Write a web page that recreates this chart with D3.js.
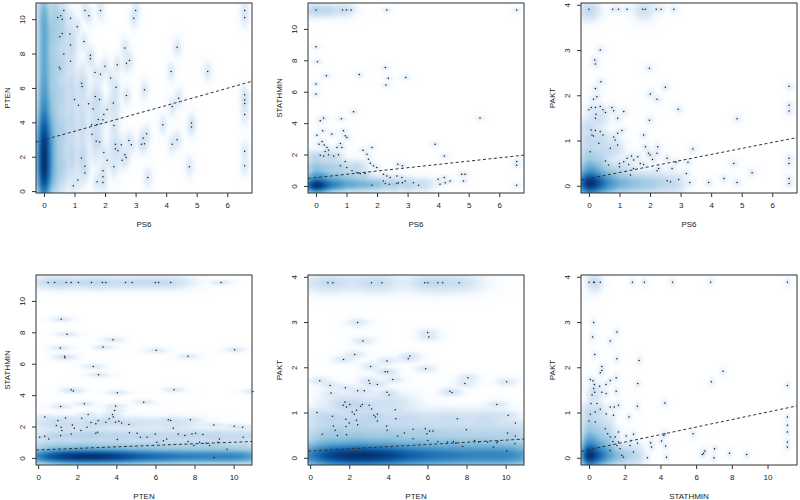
<!DOCTYPE html>
<html>
<head>
<meta charset="utf-8">
<script src="https://cdn.jsdelivr.net/npm/d3@7"></script>
<style>
  body { margin: 0; background: #fff; }
  svg { display: block; }
  text { font-family: "Liberation Sans", Arial, sans-serif; fill: #222; }
</style>
</head>
<body>
<div id="chart"></div>
<script>
// axis ranges (R style, 4% padding) and ticks per variable
var limits = { PS6: [-0.26, 6.81], PTEN: [-0.11, 10.94], STATHMIN: [-0.45, 11.65], PAKT: [-0.16, 4.04] };
var tickValues = { PS6: [0, 1, 2, 3, 4, 5, 6], PTEN: [0, 2, 4, 6, 8, 10], STATHMIN: [0, 2, 4, 6, 8, 10], PAKT: [0, 1, 2, 3, 4] };
var bandwidth = { PS6: 0.07, PTEN: 0.28, STATHMIN: 0.085, PAKT: 0.045 };

var pairs = [["PS6", "PTEN"], ["PS6", "STATHMIN"], ["PS6", "PAKT"], ["PTEN", "STATHMIN"], ["PTEN", "PAKT"], ["STATHMIN", "PAKT"]];
// dashed lm lines: [intercept, slope]
var fitLines = [[2.98, 0.5], [0.53, 0.21], [0.16, 0.133], [0.51, 0.049], [0.15, 0.024], [0.18, 0.083]];

// outlying points drawn on top of each panel
var ps6Pten = [[0.65,10.5],[1.85,10.5],[3.0,10.5],[2.94,10.05],[6.57,10.5],[6.57,10.1],[0.45,10.1],[0.55,10.2],[0.6,10.0],[0.87,10.05],[1.34,10.5],[1.47,10.2],[1.09,9.56],[0.6,9.17],[0.52,8.98],[0.85,9.13],[1.31,8.7],[0.87,8.5],[0.65,7.97],[0.87,7.55],[0.5,7.2],[0.53,7.1],[1.52,7.9],[1.52,7.7],[2.65,8.32],[2.7,7.43],[2.8,7.6],[2.4,7.35],[2.0,7.26],[1.67,6.9],[1.85,6.8],[2.18,6.58],[2.36,6.04],[1.23,6.27],[1.25,6.08],[4.36,8.36],[4.16,6.95],[5.36,6.95],[3.29,5.89],[2.7,5.56],[1.68,5.5],[1.82,5.33],[1.0,5.33],[1.13,5.0],[1.46,5.08],[1.61,4.77],[2.07,4.75],[1.96,4.46],[2.27,5.12],[1.93,4.15],[1.78,4.17],[1.74,3.88],[1.56,3.86],[2.29,3.82],[4.41,5.4],[4.2,4.92],[6.57,5.6],[6.57,5.3],[6.57,5.1],[6.57,4.45],[3.89,3.86],[4.83,3.96],[4.83,3.73],[3.36,3.34],[3.25,3.09],[3.29,2.76],[3.19,2.72],[2.78,2.95],[2.86,2.7],[2.34,2.72],[2.42,2.34],[2.34,2.47],[2.53,2.7],[2.65,2.12],[2.69,1.95],[2.56,1.8],[2.07,1.8],[2.29,1.41],[1.96,2.24],[1.71,2.9],[1.82,2.86],[1.57,3.3],[4.2,2.72],[4.36,2.99],[6.57,2.32],[6.57,1.47],[4.76,1.41],[3.4,0.79],[1.23,1.93],[1.34,1.45],[1.34,1.06],[1.93,1.18],[1.93,0.83],[1.93,0.5],[1.74,0.54],[1.11,0.64],[0.96,0.31]];
var ps6Stathmin = [[0,11.2],[0.87,11.2],[1.0,11.2],[1.15,11.2],[2.32,11.2],[6.57,11.2],[0,8.87],[0.05,7.91],[0.34,7.02],[1.42,7.09],[0,6.49],[0,5.85],[2.27,7.55],[2.37,6.85],[2.29,6.43],[2.94,6.91],[1.23,4.72],[0.25,4.32],[0.14,4.15],[0.83,4.28],[5.37,4.32],[0.03,3.23],[0.22,3.51],[0.52,3.3],[0.9,3.51],[0.96,3.19],[1.01,3.09],[0.1,2.66],[0.2,2.83],[0.27,2.6],[0.36,2.45],[0.69,2.45],[0.8,2.7],[0.85,2.45],[3.9,2.66],[0.14,1.96],[0.25,1.91],[0.41,1.98],[0.58,1.91],[0.74,1.98],[0.41,2.28],[0.3,2.19],[0.96,1.55],[0.8,1.28],[1.01,1.17],[1.54,2.28],[1.67,2.02],[1.83,2.45],[1.72,1.7],[1.78,1.45],[1.88,1.28],[1.99,1.17],[4.2,1.91],[6.57,1.55],[6.57,1.32],[1.18,0.96],[1.34,0.85],[1.45,0.79],[1.61,0.79],[4.77,0.74],[4.88,0.74],[4.83,0.32],[2.21,0.74],[2.32,0.64],[2.43,0.53],[2.21,0.32],[2.27,0.15],[2.4,0.1],[2.65,0.64],[2.81,0.53],[2.7,0.21],[2.65,0.15],[2.83,0.21],[2.92,0.32],[4.0,0.43],[4.06,0.1],[4.2,0.53],[4.23,0.21],[4.39,0.32],[3.36,0.04],[3.19,0.21],[1.83,0.04],[6.57,0.04],[2.68,1.38],[2.83,1.28]];
var ps6Pakt = [[0,3.9],[0.78,3.9],[0.97,3.9],[1.25,3.9],[1.76,3.9],[1.85,3.9],[2.2,3.9],[2.36,3.9],[2.78,3.9],[0.37,3.0],[0.19,2.78],[0.21,2.69],[0.39,2.3],[1.98,2.6],[0.21,2.15],[2.5,2.18],[2.01,2.03],[0.15,1.91],[0.26,1.97],[2.23,1.91],[0,1.68],[0.08,1.73],[0.21,1.73],[0.37,1.75],[0.46,1.68],[0.54,1.62],[0.23,1.58],[0.21,1.49],[0.75,1.73],[0.81,1.66],[1.14,1.64],[0.94,1.49],[2.92,1.69],[1.98,1.45],[4.85,1.48],[6.55,2.2],[6.55,1.78],[6.55,1.65],[0.07,1.23],[0.1,1.12],[0.15,1.1],[0.21,1.22],[0.37,1.2],[0.46,1.12],[0.32,0.94],[0.04,0.75],[0.81,1.08],[0.86,1.01],[0.94,1.16],[1.08,1.22],[0.94,0.9],[0.7,0.83],[1.79,1.12],[1.85,0.86],[1.95,0.72],[2.25,0.86],[2.23,0.72],[3.4,0.81],[0.54,0.55],[0.64,0.46],[1.0,0.49],[1.0,0.42],[1.14,0.53],[1.25,0.61],[1.39,0.66],[1.3,0.47],[1.46,0.57],[1.6,0.64],[1.68,0.49],[1.79,0.47],[1.46,0.38],[1.36,0.24],[2.0,0.68],[2.08,0.58],[2.28,0.38],[2.23,0.33],[2.56,0.61],[2.72,0.38],[2.85,0.52],[3.24,0.52],[3.19,0.27],[2.94,0.14],[2.67,0.09],[2.56,0.11],[3.3,0.07],[3.92,0.07],[4.42,0.16],[4.85,0.07],[4.74,0.49],[5.34,0.29],[6.55,0.61],[6.55,0.49],[6.55,0.16],[6.55,0.05]];
var ptenStathmin = [[0.51,11.17],[0.84,11.17],[1.43,11.17],[1.69,11.17],[2.06,11.17],[2.73,11.17],[3.29,11.17],[3.46,11.17],[4.47,11.17],[4.81,11.17],[5.99,11.17],[6.16,11.17],[6.78,11.17],[9.36,11.17],[1.18,8.83],[1.47,7.87],[3.83,7.53],[1.13,7.0],[3.32,7.06],[1.35,6.47],[1.37,6.38],[6.04,6.85],[7.67,6.47],[10.05,6.89],[2.82,5.83],[3.09,5.3],[1.69,4.34],[1.8,4.26],[4.05,4.15],[6.95,4.34],[10.99,4.23],[1.15,3.28],[2.36,3.45],[3.96,3.3],[5.4,3.55],[0.34,2.6],[1.01,2.38],[1.4,2.55],[0.93,2.06],[1.21,1.74],[1.18,1.96],[1.75,2.1],[1.85,1.89],[2.23,2.53],[2.56,2.77],[2.7,2.26],[2.95,2.17],[3.07,2.38],[3.46,2.28],[3.63,2.49],[3.8,2.77],[3.91,3.02],[3.96,2.28],[3.84,2.6],[4.13,2.34],[4.27,2.23],[4.64,2.13],[2.19,1.74],[2.5,1.96],[3.04,1.64],[2.95,1.57],[0.34,1.38],[0.54,1.21],[0.08,1.32],[1.15,1.43],[1.69,1.53],[4.67,1.6],[5.06,1.57],[5.23,1.32],[4.05,1.17],[5.57,1.32],[5.99,1.53],[6.66,2.43],[6.78,2.38],[6.91,1.89],[7.79,2.43],[7.17,1.53],[7.5,1.43],[7.87,1.53],[8.06,1.57],[8.43,1.49],[6.07,1.0],[6.41,1.1],[6.58,1.21],[7.67,1.04],[7.96,0.79],[8.6,0.94],[8.77,0.79],[9.19,1.0],[9.27,1.21],[8.99,2.1],[10.03,2.02],[10.46,1.96],[10.49,1.32],[9.66,0.55],[8.99,0.02],[8.26,1.0]];
var ptenPakt = [[0.91,3.87],[1.16,3.87],[3.14,3.87],[3.67,3.87],[5.86,3.87],[6.02,3.87],[6.53,3.87],[6.78,3.87],[7.62,3.87],[2.43,2.99],[6.01,2.77],[6.07,2.67],[2.7,2.58],[2.28,2.28],[1.71,2.17],[5.1,2.25],[5.02,2.19],[3.93,2.14],[3.09,2.02],[5.91,1.97],[3.84,1.9],[3.96,1.9],[4.23,1.73],[0.49,1.7],[3.0,1.71],[3.05,1.64],[3.44,1.62],[8.07,1.77],[7.92,1.64],[10.05,1.68],[1.02,1.6],[1.07,1.43],[1.8,1.55],[2.43,1.48],[2.77,1.48],[3.93,1.45],[4.04,1.39],[7.15,1.47],[7.25,1.44],[0.35,1.0],[1.78,1.23],[1.86,1.12],[1.69,1.16],[2.03,1.18],[2.15,1.01],[2.26,0.96],[2.37,1.05],[2.58,1.14],[2.67,1.18],[3.02,1.16],[3.14,1.08],[3.26,0.94],[3.44,0.97],[3.44,0.81],[3.34,0.9],[1.14,0.92],[1.19,0.7],[1.28,0.61],[1.39,0.49],[0.62,0.52],[1.83,0.85],[2.0,0.77],[1.83,0.69],[1.86,0.51],[2.37,0.83],[2.43,0.73],[4.35,1.06],[4.38,0.86],[3.91,0.7],[3.94,0.61],[4.48,0.48],[4.82,0.55],[5.27,0.63],[5.27,0.42],[5.89,0.64],[5.97,0.53],[6.11,0.59],[6.28,0.59],[6.02,0.38],[7.53,0.86],[7.99,0.62],[9.55,1.18],[10.13,0.94],[10.5,0.77],[10.1,0.55],[10.5,0.48],[10.47,0.31],[10.05,0.15],[6.53,0.36],[7.03,0.35],[7.45,0.32],[7.33,0.36],[7.8,0.25],[8.41,0.38],[8.62,0.35],[9.08,0.35],[9.55,0.33],[9.38,0.24],[9.6,0.36]];
var stathminPakt = [[0,3.88],[0.26,3.88],[0.3,3.88],[0.63,3.88],[2.43,3.88],[3.1,3.88],[4.68,3.88],[6.81,3.88],[11.11,3.88],[0.26,2.99],[0.2,2.67],[1.56,2.78],[1.19,2.58],[0.32,2.28],[1.56,2.19],[2.8,2.15],[0.72,2.02],[0.72,1.93],[0.63,1.88],[7.5,1.91],[6.85,1.68],[11.11,1.6],[2.73,1.64],[0.07,1.73],[0.22,1.7],[0.3,1.62],[0.26,1.53],[0.32,1.45],[0.59,1.58],[0.95,1.62],[1.19,1.71],[1.52,1.77],[0.17,1.39],[0.72,1.45],[0.96,1.42],[1.52,1.47],[0.11,1.2],[0.45,1.2],[0.63,1.07],[0.96,0.97],[1.19,1.12],[1.41,1.12],[1.37,0.94],[0.35,1.01],[0.07,0.96],[0,0.81],[1.65,1.16],[2.71,1.14],[4.25,1.21],[2.24,0.9],[11.11,0.9],[0.35,0.79],[0.91,0.64],[1.04,0.53],[1.19,0.46],[1.65,0.57],[1.47,0.46],[1.65,0.35],[1.34,0.36],[2.08,0.48],[2.49,0.52],[2.36,0.38],[2.3,0.27],[1.56,0.27],[1.74,0.2],[1.84,0.05],[1.19,0.16],[2.71,0.32],[3.45,0.33],[3.5,0.24],[4.06,0.37],[4.19,0.49],[4.25,0.53],[4.29,0.26],[5.83,0.53],[6.35,0.07],[6.42,0.1],[6.49,0.15],[7.03,0.2],[7.0,0.0],[7.87,0.1],[8.83,0.07],[11.11,0.72],[11.11,0.57],[11.11,0.35],[11.11,0.24],[3.27,0.0],[4.34,0.01],[2.49,0.13],[1.93,0.01]];

// dense (undrawn) mass of each panel: [x, y, weight]
var ps6PtenCore = [[0,0.8,160],[0,1.6,160],[0,2.4,150],[0,3.2,120],[0,4.0,50],[0,4.8,30],[0,5.6,24],[0,6.4,18],[0,7.2,16],[0,8.0,16],[0,8.8,16],[0,9.6,16],[0,10.4,18],[0.15,1.2,30],[0.15,2.5,28],[0.15,3.5,16],[0.15,5,9],[0.15,7,7],[0.15,9,7],[0.35,1,14],[0.35,2.6,14],[0.35,4.2,10],[0.35,5.8,8],[0.35,7.4,7],[0.35,9,8],[0.35,10.4,8],[0.6,1.5,8],[0.6,3.5,8],[0.6,5.5,6],[0.6,7.5,5],[0.6,9.5,6],[0.9,2,5],[0.9,4,5],[0.9,6,4],[0.9,8.5,3],[1.25,2,3.5],[1.25,4,3.5],[1.25,6,2.5],[1.7,3,2.5],[1.7,5,2.5],[2.3,2.5,1.5],[2.3,5,1.5]];
var ps6StathminCore = [[0,0.05,400],[0.25,0.05,120],[0.5,0.1,80],[0.8,0.1,60],[1.2,0.1,40],[1.6,0.1,30],[2.0,0.1,20],[2.5,0.1,12],[3.0,0.1,8],[3.5,0.1,4],[0,0.6,60],[0.3,0.6,30],[0.7,0.6,20],[1.1,0.6,12],[1.5,0.6,8],[0,1.2,20],[0.4,1.2,12],[0.8,1.2,8],[1.3,1.2,6],[0,1.8,8],[0.5,1.8,6],[0,11.2,8],[0.4,11.2,6],[0.9,11.2,4]];
var ps6PaktCore = [[0,0.05,400],[0.25,0.05,160],[0.5,0.05,80],[0.8,0.05,50],[1.2,0.05,30],[1.6,0.05,20],[2.0,0.05,14],[2.4,0.05,8],[2.8,0.05,5],[0,0.25,60],[0.3,0.25,30],[0,0.45,24],[0.3,0.45,12],[0.7,0.3,12],[1.1,0.3,6],[0,0.7,10],[0.4,0.7,6],[0,1.0,6],[0.4,1.0,4],[0.8,0.8,4],[0,1.3,4],[0.3,1.5,3],[0,3.88,6],[1.8,3.88,3]];
var ptenStathminCore = [[0.4,0.1,60],[1.2,0.1,140],[2.0,0.1,160],[2.8,0.1,160],[3.6,0.1,140],[4.4,0.1,100],[5.2,0.1,70],[6.0,0.1,60],[6.8,0.1,50],[7.6,0.1,44],[8.4,0.1,40],[9.2,0.1,40],[10.0,0.1,40],[10.6,0.1,30],[0.8,0.7,12],[2.4,0.7,14],[4.0,0.7,12],[5.6,0.7,10],[7.2,0.7,8],[8.8,0.7,8],[10.4,0.7,6],[1.0,1.4,5],[2.6,1.4,6],[4.2,1.4,5],[5.8,1.4,4],[7.4,1.4,4],[9.0,1.4,4],[10.5,1.4,3],[1,2.2,3],[3,2.2,3],[5,2.2,2],[7,2.2,2],[1,11.17,4],[3,11.17,4],[5,11.17,3],[6.5,11.17,3]];
var ptenPaktCore = [[0.4,0.05,60],[1.2,0.05,140],[2.0,0.05,160],[2.8,0.05,160],[3.6,0.05,140],[4.4,0.05,100],[5.2,0.05,70],[6.0,0.05,60],[6.8,0.05,50],[7.6,0.05,44],[8.4,0.05,40],[9.2,0.05,40],[10.0,0.05,40],[10.6,0.05,30],[0.8,0.3,20],[2.4,0.3,24],[4.0,0.3,20],[5.6,0.3,16],[7.2,0.3,14],[8.8,0.3,12],[10.4,0.3,10],[1.0,0.55,8],[2.6,0.55,8],[4.2,0.55,7],[5.8,0.55,6],[7.4,0.55,5],[9.0,0.55,5],[10.5,0.55,4],[1,0.85,5],[3,0.85,5],[5,0.85,4],[7,0.85,3],[9,0.85,3],[2,1.2,3],[4,1.2,2.4],[1,3.87,3],[3.3,3.87,3],[6.2,3.87,3],[7.5,3.87,2]];
var stathminPaktCore = [[0,0.05,400],[0.35,0.05,200],[0.7,0.05,100],[1.1,0.05,50],[1.5,0.05,24],[1.9,0.05,14],[2.3,0.05,8],[2.7,0.05,5],[0,0.25,80],[0.4,0.25,40],[0.8,0.25,20],[1.2,0.25,10],[0,0.45,30],[0.4,0.45,16],[0.8,0.45,10],[1.2,0.45,6],[0,0.7,12],[0.5,0.7,8],[1,0.7,4],[0,1,6],[0.5,1,4],[0.3,1.4,3],[0.3,3.88,4]];

var panelPoints = [ps6Pten, ps6Stathmin, ps6Pakt, ptenStathmin, ptenPakt, stathminPakt];
var panelCore = [ps6PtenCore, ps6StathminCore, ps6PaktCore, ptenStathminCore, ptenPaktCore, stathminPaktCore];

var blues9 = ["#F7FBFF", "#DEEBF7", "#C6DBEF", "#9ECAE1", "#6BAED6", "#4292C6", "#2171B5", "#08519C", "#08306B"];

var width = 800, height = 500;
var colLeft = [36, 308, 581], rowTop = [3, 275];
var pw = 216, ph = 190;
var nbin = 128;
// how much wider the kernels of the dense mass are, [x, y], per panel
var coreSpread = [[1.5, 2.5], [2.5, 2.5], [2.5, 2.5], [2.5, 2.5], [2.5, 2.5], [2.5, 2.5]];

var color = d3.scaleLinear()
  .domain(d3.range(10).map(function(i) { return i / 9; }))
  .range(["#FFFFFF"].concat(blues9));

var svg = d3.select("#chart").append("svg")
  .attr("width", width)
  .attr("height", height);

pairs.forEach(function(pair, k) {
  var xv = pair[0], yv = pair[1];
  var left = colLeft[k % 3], top = rowTop[Math.floor(k / 3)];

  var x = d3.scaleLinear().domain(limits[xv]).range([0, pw]);
  var y = d3.scaleLinear().domain(limits[yv]).range([ph, 0]);

  var g = svg.append("g").attr("transform", "translate(" + left + "," + top + ")");

  /* density image */
  var gx = d3.scaleLinear().domain([0, nbin]).range(limits[xv]);
  var gy = d3.scaleLinear().domain([0, nbin]).range(limits[yv]);
  var xs = d3.range(nbin).map(function(i) { return gx(i + 0.5); });
  var ys = d3.range(nbin).map(function(j) { return gy(j + 0.5); });
  var bx = bandwidth[xv], by = bandwidth[yv];
  var sp = coreSpread[k];

  var kernels = panelPoints[k].map(function(p) { return [p[0], p[1], 1, bx, by]; })
    .concat(panelCore[k].map(function(c) { return [c[0], c[1], c[2], bx * sp[0], by * sp[1]]; }));

  var grid = new Float64Array(nbin * nbin);
  kernels.forEach(function(kn) {
    var wx = xs.map(function(v) { var d = (v - kn[0]) / kn[3]; return Math.exp(-0.5 * d * d); });
    var wy = ys.map(function(v) { var d = (v - kn[1]) / kn[4]; return Math.exp(-0.5 * d * d); });
    for (var j = 0; j < nbin; j++) {
      if (wy[j] < 1e-6) continue;
      for (var i = 0; i < nbin; i++) {
        grid[j * nbin + i] += kn[2] * wx[i] * wy[j];
      }
    }
  });
  var dmax = d3.max(grid);

  var canvas = d3.create("canvas").attr("width", nbin).attr("height", nbin).node();
  var ctx = canvas.getContext("2d");
  var img = ctx.createImageData(nbin, nbin);
  for (var j = 0; j < nbin; j++) {
    for (var i = 0; i < nbin; i++) {
      var c = d3.rgb(color(Math.pow(grid[j * nbin + i] / dmax, 0.25)));
      var idx = ((nbin - 1 - j) * nbin + i) * 4;
      img.data[idx] = c.r; img.data[idx + 1] = c.g; img.data[idx + 2] = c.b; img.data[idx + 3] = 255;
    }
  }
  ctx.putImageData(img, 0, 0);

  g.append("image")
    .attr("href", canvas.toDataURL())
    .attr("x", 0).attr("y", 0)
    .attr("width", pw).attr("height", ph)
    .attr("preserveAspectRatio", "none");

  var clipId = "clip" + k;
  g.append("clipPath").attr("id", clipId)
    .append("rect").attr("width", pw).attr("height", ph);

  /* points */
  g.append("g").selectAll("circle")
    .data(panelPoints[k])
    .enter().append("circle")
    .attr("cx", function(d) { return x(d[0]); })
    .attr("cy", function(d) { return y(d[1]); })
    .attr("r", 0.75)
    .attr("fill", "#1a1a1a");

  /* dashed regression line */
  var coef = fitLines[k];
  g.append("path")
    .datum(limits[xv])
    .attr("clip-path", "url(#" + clipId + ")")
    .attr("d", d3.line()
      .x(function(d) { return x(d); })
      .y(function(d) { return y(coef[0] + coef[1] * d); }))
    .attr("fill", "none")
    .attr("stroke", "#333")
    .attr("stroke-width", 1)
    .attr("stroke-dasharray", "3,2.5");

  /* axes */
  var fmt = d3.format("d");
  var xAxis = g.append("g")
    .attr("transform", "translate(0," + ph + ")")
    .call(d3.axisBottom(x).tickValues(tickValues[xv]).tickFormat(fmt).tickSize(4).tickPadding(5));
  var yAxis = g.append("g")
    .call(d3.axisLeft(y).tickValues(tickValues[yv]).tickFormat(fmt).tickSize(4));

  [xAxis, yAxis].forEach(function(a) {
    a.select(".domain").remove();
    a.selectAll("line").attr("stroke", "#333");
    a.selectAll("text").style("font-size", "8px").attr("fill", "#222");
  });
  yAxis.selectAll(".tick text")
    .attr("transform", "rotate(-90)")
    .attr("x", 0)
    .attr("y", -13.5)
    .attr("dy", "0.35em")
    .attr("text-anchor", "middle");

  g.append("rect")
    .attr("width", pw).attr("height", ph)
    .attr("fill", "none")
    .attr("stroke", "#333")
    .attr("stroke-width", 1);

  g.append("text")
    .attr("x", pw / 2).attr("y", ph + 31)
    .attr("dy", "0.35em")
    .attr("text-anchor", "middle")
    .style("font-size", "8px")
    .text(xv);

  g.append("text")
    .attr("transform", "translate(-29," + ph / 2 + ") rotate(-90)")
    .attr("dy", "0.35em")
    .attr("text-anchor", "middle")
    .style("font-size", "8px")
    .text(yv);
});
</script>
</body>
</html>
